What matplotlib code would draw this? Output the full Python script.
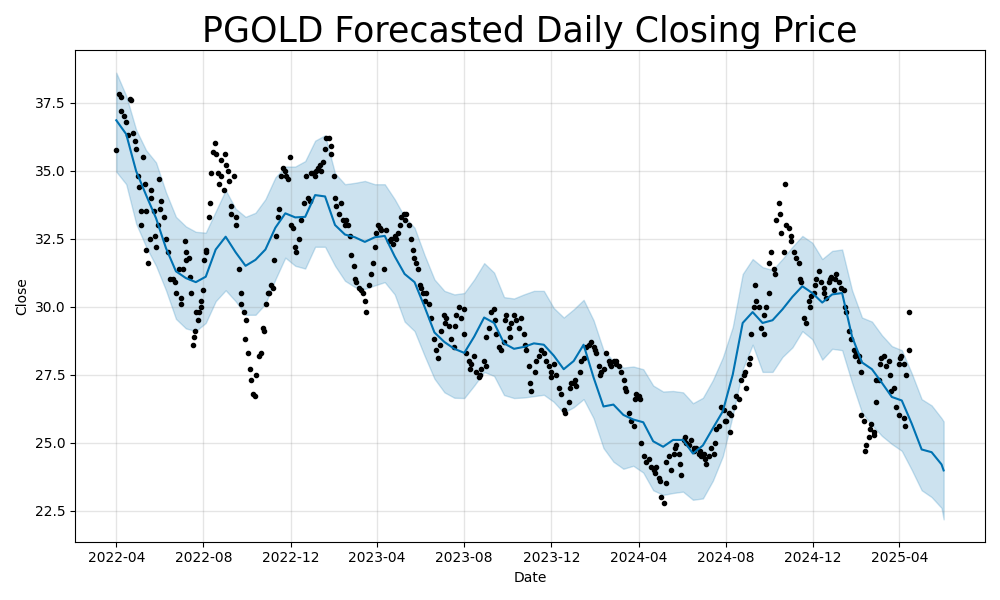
import numpy as np
import pandas as pd
import matplotlib
matplotlib.use("Agg")
import matplotlib.pyplot as plt
import matplotlib.dates as mdates

# observed closes, grouped by month (spread over that month's trading days)
obs_months = ['2022-04', '2022-05', '2022-06', '2022-07', '2022-08', '2022-09',
              '2022-10', '2022-11', '2022-12', '2023-01', '2023-02', '2023-03',
              '2023-04', '2023-05', '2023-06', '2023-07', '2023-08', '2023-09',
              '2023-10', '2023-11', '2023-12', '2024-01', '2024-02', '2024-03',
              '2024-04', '2024-05', '2024-06', '2024-07', '2024-08', '2024-09',
              '2024-10', '2024-11', '2024-12', '2025-01', '2025-02', '2025-03',
              '2025-04']
obs_close = [
    [35.75, 37.8, 37.7, 37.2, 37.0, 36.8, 36.3, 37.65, 37.6, 36.4, 36.1, 35.8],
    [34.8, 34.4, 33.5, 33.0, 35.5, 34.5, 33.5, 32.1, 31.6, 32.5, 34.0, 34.3, 33.5, 32.6, 32.2, 33.0, 34.7],
    [33.6, 33.9, 33.3, 32.5, 32.0, 31.0, 31.0, 30.9, 30.5, 31.4, 30.1],
    [30.3, 31.4, 32.4, 31.7, 32.0, 31.8, 31.1, 30.5, 28.6, 28.9, 29.1, 29.8, 29.5, 29.8, 30.0, 30.2],
    [30.6, 31.7, 32.0, 32.1, 33.3, 33.8, 34.9, 35.7, 36.0, 35.6, 34.9, 34.5, 35.4, 34.8, 34.3, 35.6],
    [35.2, 35.0, 34.6, 33.4, 33.7, 34.8, 33.3, 33.0, 31.4, 30.5, 30.1, 29.8, 28.8, 29.5],
    [28.3, 27.7, 27.3, 26.8, 26.7, 27.5, 28.2, 28.3, 29.2, 29.1, 30.1, 30.5],
    [30.5, 30.8, 30.7, 31.7, 32.6, 33.3, 33.6, 34.8, 35.1, 35.0, 34.8, 34.7, 35.5],
    [33.0, 32.9, 32.2, 32.0, 32.5, 33.2, 33.8, 34.8, 34.0, 33.9, 34.9],
    [34.9, 34.8, 35.0, 35.1, 35.2, 35.0, 35.3, 35.8, 36.2, 36.2, 35.9, 35.6, 34.8],
    [34.0, 33.7, 33.4, 33.8, 33.2, 33.0, 33.2, 33.0, 32.6, 31.9, 31.5],
    [31.0, 30.9, 30.7, 30.6, 30.5, 30.2, 29.8, 30.8, 31.2, 31.6, 32.2, 32.7],
    [33.0, 32.9, 32.8, 31.4, 32.8, 32.4, 32.5, 32.3, 32.6, 32.5],
    [32.7, 33.0, 33.3, 33.4, 33.2, 33.4, 33.0, 32.5, 32.1, 31.8, 31.6, 31.4, 30.8],
    [30.7, 30.5, 30.2, 30.5, 30.1, 29.6, 28.8, 28.4, 28.1, 28.6, 29.1],
    [29.7, 29.4, 29.6, 29.3, 28.8, 28.5, 29.3, 29.7, 30.0, 29.6, 29.9],
    [29.0, 28.3, 28.0, 27.7, 27.9, 28.2, 27.6, 27.4, 27.5, 27.7, 28.0, 27.8],
    [28.9, 29.2, 29.8, 29.9, 29.5, 29.0, 28.5, 28.4, 28.7, 29.5, 29.7],
    [29.2, 28.9, 29.4, 29.7, 29.5, 29.2, 29.6, 29.0, 28.6, 28.4, 27.8],
    [27.2, 26.9, 27.6, 28.0, 28.2, 28.4, 28.3, 28.0, 27.8, 27.6],
    [27.4, 27.9, 27.5, 27.0, 26.8, 26.2, 26.1, 26.5, 27.0, 27.2],
    [27.2, 27.3, 27.1, 27.6, 28.0, 28.1, 28.5, 28.6, 28.7, 28.5, 28.4],
    [28.3, 27.8, 27.5, 27.6, 27.7, 28.3, 28.0, 27.9, 27.8, 28.0, 27.9],
    [28.0, 27.8, 27.6, 27.3, 27.0, 26.9, 26.1, 25.8, 25.6, 26.6, 26.8],
    [26.7, 26.6, 25.0, 24.5, 24.3, 24.4, 24.1, 24.0, 23.9, 24.1, 23.7],
    [23.6, 23.0, 22.8, 23.5, 24.3, 24.5, 24.0, 24.6, 24.8, 24.9, 24.6, 24.2, 23.8],
    [25.1, 25.2, 25.0, 24.9, 25.1, 24.8, 24.7, 24.8, 24.6, 24.7, 24.5],
    [24.6, 24.4, 24.2, 24.5, 24.8, 24.6, 25.0, 25.5, 25.6, 26.3, 26.2, 25.8],
    [25.8, 26.1, 25.4, 26.0, 26.3, 26.7, 26.6, 27.3, 27.5, 27.6, 27.0],
    [27.9, 28.1, 29.0, 30.0, 30.8, 30.2, 30.0, 29.2, 29.0, 29.7, 30.0, 30.5],
    [31.6, 32.0, 31.4, 31.2, 33.2, 33.8, 33.4, 32.7, 32.0, 34.5, 33.0, 32.9, 32.4],
    [32.6, 32.0, 31.8, 31.6, 31.0, 30.9, 29.6, 29.4, 30.2, 30.0, 30.4],
    [30.5, 30.8, 31.0, 31.3, 30.9, 30.5, 30.7, 30.3, 30.9, 31.0, 31.1, 30.6],
    [31.0, 31.2, 30.9, 30.7, 30.6, 30.0, 29.8, 29.1, 28.8, 28.4, 28.2, 28.3],
    [28.2, 28.0, 27.6, 26.0, 25.8, 24.7, 24.9, 25.2, 25.5, 25.7, 25.4, 25.3, 27.3, 26.5],
    [27.3, 27.9, 28.1, 28.2, 27.8, 28.0, 27.5, 26.9, 27.0, 26.3, 26.0],
    [27.9, 28.1, 28.2, 27.9, 25.9, 25.6, 27.5, 28.4, 29.8],
]
obs_last_day = '2025-04-15'

# forecast sampled about every two weeks, plus the final day
fc_start = '2022-04-01'
fc_step = '334h'
fc_end = '2025-06-02'
yhat = [36.85, 36.34, 34.98, 34.1, 33.25, 32.15, 31.3, 31.05, 30.9, 31.1,
        32.1, 32.57, 32.0, 31.5, 31.72, 32.1, 32.9, 33.43, 33.28, 33.3,
        34.1, 34.05, 33.0, 32.65, 32.55, 32.38, 32.55, 32.6, 31.85, 31.2,
        30.9, 30.0, 29.05, 28.7, 28.45, 28.3, 28.9, 29.6, 29.4, 28.65,
        28.45, 28.52, 28.65, 28.6, 28.2, 27.7, 28.0, 28.6, 27.4, 26.33,
        26.4, 26.02, 25.85, 25.75, 25.05, 24.85, 25.1, 25.1, 24.6, 24.9,
        25.53, 26.15, 27.5, 29.4, 29.8, 29.4, 29.5, 29.9, 30.36, 30.75,
        30.5, 30.15, 30.45, 30.5, 28.9, 27.95, 27.7, 27.2, 26.68, 26.55,
        25.7, 24.75, 24.65, 24.2, 23.98]
yhat_upper = [38.6, 37.75, 36.5, 35.75, 35.3, 34.2, 33.3, 32.95, 32.75, 32.72,
              33.5, 34.28, 33.6, 33.3, 33.45, 33.95, 34.75, 35.15, 35.15, 35.35,
              36.1, 36.3, 34.9, 34.5, 34.55, 34.62, 34.5, 34.5, 33.95, 33.3,
              32.9, 31.9, 31.0, 30.58, 30.45, 30.5, 31.0, 31.6, 31.25, 30.35,
              30.3, 30.45, 30.58, 30.58, 29.95, 29.6, 29.9, 30.25, 29.5, 28.4,
              28.0, 27.76, 27.8, 27.7, 27.1, 26.88, 26.9, 26.85, 26.45, 26.65,
              27.3, 28.13, 29.25, 31.2, 31.75, 31.45, 31.35, 31.75, 32.2, 32.6,
              32.35, 31.75, 32.05, 32.1, 30.6, 29.6, 29.45, 28.95, 28.55, 28.4,
              27.55, 26.6, 26.37, 25.9, 25.78]
yhat_lower = [34.96, 34.5, 33.05, 32.2, 31.5, 30.6, 29.55, 29.2, 29.1, 29.4,
              30.2, 30.6, 30.2, 29.7, 29.7, 30.1, 31.0, 31.8, 31.5, 31.4,
              32.2, 32.2, 31.5, 30.95, 30.72, 30.65, 30.78, 30.9, 30.45, 29.45,
              29.1, 28.2, 27.35, 26.85, 26.65, 26.64, 27.1, 27.6, 27.45, 26.75,
              26.64, 26.66, 26.71, 26.76, 26.5, 26.1, 26.3, 26.6, 25.9, 24.8,
              24.3, 24.04, 24.15, 23.9, 23.25, 23.08, 23.15, 23.2, 22.9, 22.95,
              23.6, 24.5, 26.0, 27.7, 28.6, 27.6, 27.6, 28.15, 28.5, 29.1,
              28.8, 28.05, 28.45, 28.4, 27.2, 26.1, 25.65, 25.25, 24.95, 24.7,
              24.0, 23.25, 23.0, 22.6, 22.18]

# place each month's closes on evenly spaced trading days of that month
obs_dates, obs_vals = [], []
for m, vals in zip(obs_months, obs_close):
    start = pd.Timestamp(m + '-01')
    end = min(start + pd.offsets.MonthEnd(0), pd.Timestamp(obs_last_day))
    days = pd.bdate_range(start, end)
    idx = np.linspace(0, len(days) - 1, len(vals)).round().astype(int)
    obs_dates.extend(days[idx])
    obs_vals.extend(vals)

fc_dates = list(pd.date_range(fc_start, periods=len(yhat) - 1, freq=fc_step))
fc_dates.append(pd.Timestamp(fc_end))

fig = plt.figure(facecolor='w', figsize=(10, 6))
ax = fig.add_subplot(111)
ax.plot(obs_dates, obs_vals, 'k.')
ax.plot(fc_dates, yhat, ls='-', c='#0072B2')
ax.fill_between(fc_dates, yhat_lower, yhat_upper, color='#0072B2', alpha=0.2)
ax.grid(True, which='major', c='gray', ls='-', lw=1, alpha=0.2)
ax.xaxis.set_major_locator(mdates.MonthLocator(bymonth=[4, 8, 12]))
ax.xaxis.set_major_formatter(mdates.DateFormatter('%Y-%m'))
ax.set_xlabel('Date')
ax.set_ylabel('Close')
ax.set_title('PGOLD Forecasted Daily Closing Price', fontsize=25)
fig.tight_layout()
fig.savefig('out.png', dpi=100)
